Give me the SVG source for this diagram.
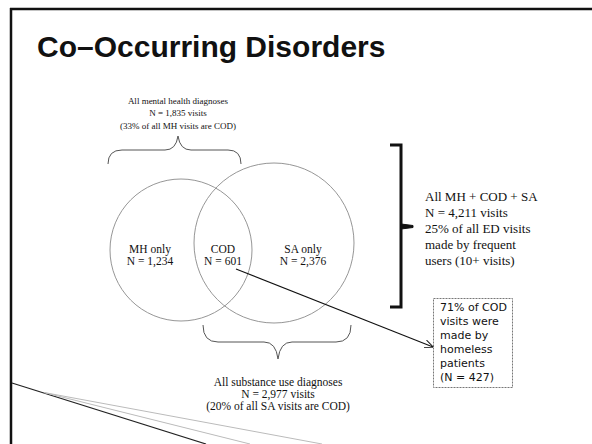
<svg xmlns="http://www.w3.org/2000/svg" width="592" height="444" viewBox="0 0 592 444">
<defs>
<style>
.serif{font-family:"Liberation Serif","Times New Roman",serif;fill:#111}
.sans{font-family:"DejaVu Sans","Verdana",sans-serif;fill:#111}
.circ{fill:none;stroke:#8a8a8a;stroke-width:0.9}
.brace{fill:none;stroke:#555;stroke-width:1}
</style>
<marker id="arr" viewBox="0 0 10 10" refX="9.5" refY="5" markerWidth="9" markerHeight="9" orient="auto" markerUnits="userSpaceOnUse">
<path d="M0,0.5 L10,5 L0,9.5" fill="none" stroke="#111" stroke-width="1"/>
</marker>
</defs>
<rect x="0" y="0" width="592" height="444" fill="#fff"/>
<g id="frame">
<line x1="10" y1="9" x2="592" y2="9" stroke="#111" stroke-width="2.5"/>
<line x1="11" y1="8" x2="11" y2="444" stroke="#111" stroke-width="2.5"/>
<line x1="12" y1="383" x2="206" y2="444" stroke="#222" stroke-width="1.2"/>
<line x1="44" y1="392.5" x2="250" y2="444" stroke="#bbb" stroke-width="1"/>
<line x1="44" y1="392.5" x2="322" y2="444" stroke="#bbb" stroke-width="1"/>
</g>
<g id="title">
<text x="37" y="57" font-family="Liberation Sans, Arial, sans-serif" font-weight="bold" font-size="30" fill="#111">Co–Occurring Disorders</text>
</g>
<g id="mh-label">
<text class="serif" font-size="9" text-anchor="middle"><tspan x="178" y="104">All mental health diagnoses</tspan><tspan x="178" y="116">N = 1,835 visits</tspan><tspan x="178" y="129">(33% of all MH visits are COD)</tspan></text>
<path class="brace" d="M108,164 Q108,150 122,150 L165,150 Q176,150 178,136 Q180,150 191,150 L228,150 Q241,150 241,164"/>
</g>
<g id="mh-circle">
<circle class="circ" cx="181" cy="250" r="71"/>
<text class="serif" font-size="11.5" text-anchor="middle"><tspan x="150" y="253">MH only</tspan><tspan x="150" y="265">N = 1,234</tspan></text>
</g>
<g id="sa-circle">
<circle class="circ" cx="274" cy="243" r="80"/>
<text class="serif" font-size="11.5" text-anchor="middle"><tspan x="303" y="253">SA only</tspan><tspan x="303" y="265">N = 2,376</tspan></text>
</g>
<g id="cod">
<text class="serif" font-size="11.5" text-anchor="middle"><tspan x="223" y="253">COD</tspan><tspan x="223" y="265">N = 601</tspan></text>
</g>
<g id="sa-label">
<path class="brace" d="M203,325 Q203,342 218,342 L264,342 Q276,342 278,359 Q280,342 292,342 L336,342 Q351,342 351,325"/>
<text class="serif" font-size="11.5" text-anchor="middle"><tspan x="278" y="386">All substance use diagnoses</tspan><tspan x="278" y="398">N = 2,977 visits</tspan><tspan x="278" y="410">(20% of all SA visits are COD)</tspan></text>
</g>
<g id="all-label">
<path d="M390,145 L401,145 L401,307 L390,307" fill="none" stroke="#111" stroke-width="3"/>
<path d="M401,224 L413,225.5 L413,227.5 L401,229 Z" fill="#111" stroke="#111" stroke-width="1"/>
<text class="serif" font-size="13"><tspan x="425" y="201">All MH + COD + SA</tspan><tspan x="425" y="217">N = 4,211 visits</tspan><tspan x="425" y="233">25% of all ED visits</tspan><tspan x="425" y="249">made by frequent</tspan><tspan x="425" y="265">users (10+ visits)</tspan></text>
</g>
<g id="homeless-box">
<rect x="433.5" y="298.5" width="79" height="89" fill="#fff" stroke="#777" stroke-width="1" stroke-dasharray="2,1"/>
<text class="sans" font-size="11"><tspan x="440" y="311">71% of COD</tspan><tspan x="440" y="325">visits were</tspan><tspan x="440" y="339">made by</tspan><tspan x="440" y="353">homeless</tspan><tspan x="440" y="367">patients</tspan><tspan x="440" y="381">(N = 427)</tspan></text>
</g>
<g id="connectors">
<line x1="236" y1="269" x2="433" y2="347" stroke="#111" stroke-width="1.1" marker-end="url(#arr)"/>
</g>
</svg>
